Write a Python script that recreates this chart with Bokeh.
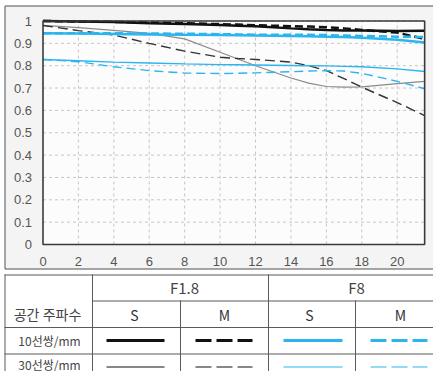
from bokeh.plotting import figure
from bokeh.models import Range1d
from bokeh.core.properties import value
from bokeh.embed import file_html
from bokeh.resources import INLINE

# ---- data ----
x = [0, 2, 4, 6, 8, 10, 11, 12, 14, 15, 16, 17, 18, 20, 21.55]
s10_f18 = [1.0, 0.998, 0.995, 0.99, 0.987, 0.982, 0.979, 0.976, 0.967, 0.963, 0.960, 0.958, 0.957, 0.955, 0.956]
m10_f18 = [1.0, 0.998, 0.996, 0.993, 0.99, 0.986, 0.984, 0.981, 0.977, 0.975, 0.972, 0.967, 0.96, 0.948, 0.92]
s10_f8 = [0.945, 0.944, 0.942, 0.94, 0.938, 0.937, 0.936, 0.935, 0.933, 0.932, 0.93, 0.928, 0.925, 0.916, 0.904]
m10_f8 = [0.945, 0.945, 0.945, 0.944, 0.943, 0.941, 0.94, 0.939, 0.938, 0.938, 0.937, 0.935, 0.933, 0.93, 0.928]
s30_f18 = [0.98, 0.97, 0.958, 0.945, 0.92, 0.86, 0.83, 0.8, 0.745, 0.722, 0.707, 0.704, 0.705, 0.72, 0.73]
m30_f18 = [0.98, 0.957, 0.937, 0.9, 0.865, 0.838, 0.832, 0.828, 0.816, 0.8, 0.778, 0.742, 0.704, 0.635, 0.577]
s30_f8 = [0.828, 0.822, 0.816, 0.812, 0.808, 0.805, 0.804, 0.803, 0.801, 0.8, 0.799, 0.797, 0.795, 0.786, 0.774]
m30_f8 = [0.828, 0.818, 0.795, 0.778, 0.767, 0.765, 0.766, 0.768, 0.773, 0.776, 0.778, 0.776, 0.766, 0.73, 0.697]

BLUE = "#2bb5ef"
series = [
    (s10_f18, "#111111", 2.5, "solid"),
    (m10_f18, "#111111", 2.5, "8 4"),
    (s10_f8, BLUE, 2.5, "solid"),
    (m10_f8, BLUE, 2.5, "8 4"),
    (s30_f18, "#8a8a8a", 1.2, "solid"),
    (m30_f18, "#333333", 1.4, "10 5"),
    (s30_f8, BLUE, 1.4, "solid"),
    (m30_f8, BLUE, 1.4, "9 5"),
]
legend_colors = ["#111111", "#111111", BLUE, BLUE]
draw_order = [4, 5, 6, 7, 0, 1, 2, 3]

y_ticks = [0, 0.1, 0.2, 0.3, 0.4, 0.5, 0.6, 0.7, 0.8, 0.9, 1]
y_labels = ["0", "0.1", "0.2", "0.3", "0.4", "0.5", "0.6", "0.7", "0.8", "0.9", "1"]
x_ticks = [0, 2, 4, 6, 8, 10, 12, 14, 16, 18, 20]
x_labels = [str(v) for v in x_ticks]
X_MAX = 21.55

header_title = "공간 주파수"
apertures = ["F1.8", "F8"]
sm_labels = ["S", "M", "S", "M"]
row_labels = ["10선쌍/mm", "30선쌍/mm"]

# ---- layout (picture pixels) ----
W, H = 433, 371
PX0, PY0 = 0, 0
fx0, fx20 = 42.5, 396.7   # x of data x=0 and x=20
fy1, fy0 = 20.5, 244.0    # y of data y=1 and y=0
kx = (fx20 - fx0) / 20.0
ky = (fy0 - fy1) / 1.0

chart_x = Range1d(-(fx0 - PX0) / kx, (PX0 + W - fx0) / kx)
chart_y = Range1d(-(PY0 + H - fy0) / ky, 1 + (fy1 - PY0) / ky)

p = figure(width=W, height=H, x_range=chart_x, y_range=chart_y,
           output_backend="svg", toolbar_location=None,
           min_border_left=0, min_border_right=0, min_border_top=0, min_border_bottom=0,
           border_fill_color="white", background_fill_color="white", outline_line_color=None)
p.axis.visible = False
p.grid.visible = False
p.extra_x_ranges = {"page_x": Range1d(PX0, PX0 + W)}
p.extra_y_ranges = {"page_y": Range1d(PY0 + H, PY0)}
PG = dict(x_range_name="page_x", y_range_name="page_y")

# outer chart box
p.quad(left=[4.5], right=[446], top=[5.5], bottom=[268.5], fill_color="#f4f4f4",
       line_color="#505050", line_width=1, **PG)
# plot area
p.quad(left=[0], right=[X_MAX], bottom=[0], top=[1], fill_color="#fcfcfc", line_color=None)

# grid
p.segment(x0=x_ticks[1:], y0=[0] * 10, x1=x_ticks[1:], y1=[1] * 10,
          line_color="#c6c6c6", line_width=1, line_dash="3 3")
p.segment(x0=[0] * 10, y0=y_ticks[1:], x1=[X_MAX] * 10, y1=y_ticks[1:],
          line_color="#c6c6c6", line_width=1, line_dash="3 3")

for i in draw_order:
    ys, c, w, d = series[i]
    p.line(x, ys, line_color=c, line_width=w, line_dash=d)

# frame
p.quad(left=[0], right=[X_MAX], bottom=[0], top=[1], fill_color=None,
       line_color="#3a3a3a", line_width=1.6)

FONT = value("Liberation Sans")
p.text(x=[0] * 11, y=y_ticks, text=y_labels, x_offset=-11, text_align="right",
       text_baseline="middle", text_font=FONT, text_font_size="13px", text_color="#555555")
p.text(x=x_ticks, y=[0] * 11, text=x_labels, y_offset=17, text_align="center",
       text_baseline="middle", text_font=FONT, text_font_size="13px", text_color="#555555")

# ---- table legend ----
lc = "#5a5a5a"
p.segment(x0=[4, 92, 4, 4, 4.5, 92, 268, 180, 355],
          y0=[274.5, 300.5, 327, 353.5, 274, 274, 274, 300, 300],
          x1=[441, 441, 441, 441, 4.5, 92, 268, 180, 355],
          y1=[274.5, 300.5, 327, 353.5, 379, 379, 379, 379, 379],
          line_color=lc, line_width=1, **PG)

KFONT = value("Noto Sans CJK KR")
p.text(x=[47], y=[313], text=[header_title], text_font=KFONT, text_font_size="14px",
       text_color="#444444", text_align="center", text_baseline="middle", **PG)
p.text(x=[184, 356], y=[287, 287], text=apertures, text_font=KFONT, text_font_size="15px",
       text_color="#444444", text_align="center", text_baseline="middle", **PG)
p.text(x=[134, 224, 309, 400], y=[314, 314, 314, 314], text=sm_labels, text_font=KFONT,
       text_font_size="14px", text_color="#333333", text_align="center", text_baseline="middle", **PG)
p.text(x=[49, 49], y=[340, 363.5], text=row_labels, text_font=KFONT, text_font_size="12px",
       text_color="#444444", text_align="center", text_baseline="middle", **PG)

cell_x0 = [106, 195, 283, 370]
cell_x1 = [164, 252, 342, 427]
row_y = [340, 366.5]
for r in range(2):
    for c in range(4):
        ys, col, w, d = series[r * 4 + c]
        lw = 3 if r == 0 else 1
        dd = "solid" if d == "solid" else "16 5"
        p.line([cell_x0[c], cell_x1[c]], [row_y[r], row_y[r]], line_color=legend_colors[c],
               line_width=lw, line_dash=dd, **PG)

open("out.html", "w").write(file_html(p, INLINE))
